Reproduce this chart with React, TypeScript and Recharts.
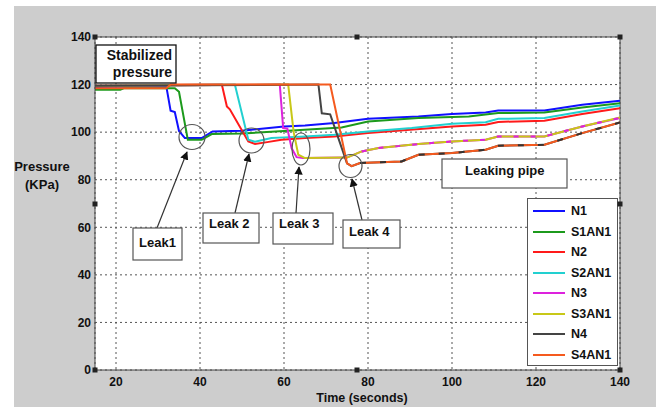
import React from 'react';
import { LineChart, Line, XAxis, YAxis, CartesianGrid, Legend, ReferenceLine } from 'recharts';

const X_TICKS = [20, 40, 60, 80, 100, 120, 140];
const Y_TICKS = [0, 20, 40, 60, 80, 100, 120, 140];

// time (s) / pressure (KPa), one pair per series
const N1_T = [15, 25, 32, 33, 34, 35, 36.4, 40.4, 43, 50, 60, 65, 72, 80, 92, 100, 108, 111, 122, 131, 140];
const N1_P = [119, 119.2, 119, 109, 108.5, 100.5, 97.5, 97.5, 100.3, 100.6, 102.4, 102.8, 103.8, 105.6, 106.6, 107.6, 108.3, 109.1, 109.1, 111.5, 113.2];

const S1AN1_T = [15, 21, 22, 34, 35, 37.1, 40.4, 42.8, 50, 60, 73.7, 80, 92, 104, 111, 122, 131, 140];
const S1AN1_P = [117.8, 117.8, 118.5, 118.5, 117, 96.8, 96.8, 99.2, 99.4, 100.5, 102, 104.5, 105.9, 106.6, 108, 108.3, 110.4, 112.2];

const N2_T = [15, 45.2, 46.4, 47.1, 51.5, 53.1, 56, 59.4, 65, 72, 80, 90, 100, 108, 111, 122, 131, 140];
const N2_P = [119.5, 120, 110.8, 109.6, 96.1, 95, 95.8, 96.8, 97.5, 98.2, 99.6, 101, 102.4, 103.1, 104.3, 104.8, 107.6, 110.1];

const S2AN1_T = [15, 48.3, 51.5, 53.1, 57, 60, 65, 72, 80, 90.4, 100, 108, 111, 122, 131, 140];
const S2AN1_P = [119.5, 120, 96.8, 96, 97.5, 97.8, 98.2, 98.9, 100.3, 101.7, 103.5, 104.2, 105.6, 105.9, 108.7, 111.2];

const N3_T = [15, 59, 59.8, 60.8, 61.8, 63, 64.5, 75, 78.5, 82.5, 92, 100, 108, 111, 122, 131, 140];
const N3_P = [119.5, 120, 101.7, 101.5, 93.3, 89.5, 89.1, 89.3, 91.9, 93.3, 95, 96.1, 96.8, 98.2, 98.2, 102.4, 106];

const S3AN1_T = [15, 61, 62.3, 63.4, 65, 75, 78.5, 82.5, 92, 100, 108, 111, 122, 131, 140];
const S3AN1_P = [119.5, 120, 100, 90.5, 89.1, 89.3, 91.9, 93.3, 95, 96.1, 96.8, 98.2, 98.2, 102.4, 106.2];

const N4_T = [15, 68.2, 69, 71, 75, 76.1, 78.1, 88, 92, 100, 108, 111, 122, 131, 140];
const N4_P = [119.5, 120, 107.9, 107.5, 86.9, 85.7, 87, 87.7, 90.5, 91.2, 92.6, 94.3, 94.7, 99.6, 104.1];

const S4AN1_T = [15, 32, 33, 71, 75, 76.1, 78.1, 88, 92, 100, 108, 111, 122, 131, 140];
const S4AN1_P = [118.5, 118.5, 120, 120, 86.9, 85.7, 87, 87.7, 90.5, 91.2, 92.6, 94.3, 94.7, 99.6, 104.1];

const SERIES_NAMES = ['N1', 'S1AN1', 'N2', 'S2AN1', 'N3', 'S3AN1', 'N4', 'S4AN1'];

const FONT = '"Liberation Sans", Arial, sans-serif';

const toPoints = (t: number[], p: number[]) => t.map((time, i) => ({ time, pressure: p[i] }));

const series = [
  { name: 'N1', color: '#1010ff', data: toPoints(N1_T, N1_P) },
  { name: 'S1AN1', color: '#1c9a1c', data: toPoints(S1AN1_T, S1AN1_P) },
  { name: 'N2', color: '#ff1a1a', data: toPoints(N2_T, N2_P) },
  { name: 'S2AN1', color: '#22d0d0', data: toPoints(S2AN1_T, S2AN1_P) },
  { name: 'N3', color: '#dd22dd', data: toPoints(N3_T, N3_P) },
  { name: 'S3AN1', color: '#c8c818', data: toPoints(S3AN1_T, S3AN1_P) },
  { name: 'N4', color: '#444444', data: toPoints(N4_T, N4_P) },
  { name: 'S4AN1', color: '#f55a1e', data: toPoints(S4AN1_T, S4AN1_P) },
];

// where N3/N4 lie on top of S3AN1/S4AN1 they show up as dashes
const n3Tail = toPoints(N3_T, N3_P).filter(d => d.time >= 76);
const n4Tail = toPoints(N4_T, N4_P).filter(d => d.time >= 77);

const LegendBox = ({ payload }: any) => {
  const items = (payload || [])
    .filter((p: any) => p.type !== 'none' && SERIES_NAMES.includes(p.value))
    .sort((a: any, b: any) => SERIES_NAMES.indexOf(a.value) - SERIES_NAMES.indexOf(b.value));
  return (
    <div style={{ width: 91, height: 168, background: '#fff', border: '1px solid #555', boxSizing: 'border-box', paddingTop: 2 }}>
      {items.map((p: any) => (
        <div key={p.value} style={{ display: 'flex', alignItems: 'center', height: 20.5, fontFamily: FONT, fontWeight: 'bold', fontSize: 12.5, color: '#111' }}>
          <div style={{ width: 32, height: 2, background: p.color, marginLeft: 5, marginRight: 6 }} />
          {p.value}
        </div>
      ))}
    </div>
  );
};

const textStyle = { fontFamily: FONT, fontWeight: 'bold' as const, fontSize: 13, fill: '#111' };

const Handle = ({ x, y }: { x: number; y: number }) => <rect x={x - 2.5} y={y - 2.5} width={5} height={5} fill="#222" />;

export default function App() {
  return (
    <div style={{ position: 'absolute', left: 0, top: 0, width: 656, height: 407, background: '#fff', overflow: 'hidden' }}>
      <div style={{ position: 'absolute', left: 14, top: 6, right: 0, bottom: 0, background: '#cdcdcd' }} />
      <div style={{ position: 'absolute', left: 0, top: 0 }}>
        <LineChart width={656} height={407} margin={{ top: 37, right: 36, left: 35, bottom: 0 }}>
          <CartesianGrid fill="#fff" stroke="#555" strokeDasharray="2 3" />
          <XAxis
            dataKey="time"
            type="number"
            domain={[15, 140]}
            ticks={X_TICKS}
            allowDataOverflow
            height={37}
            tickLine={false}
            tickSize={4}
            tickMargin={3}
            axisLine={{ stroke: '#444' }}
            tick={{ fontFamily: FONT, fontWeight: 'bold', fontSize: 12, fill: '#111' }}
          />
          <YAxis
            type="number"
            domain={[0, 140]}
            ticks={Y_TICKS}
            width={60}
            tickLine={false}
            tickSize={2}
            tickMargin={2}
            axisLine={{ stroke: '#444' }}
            tick={{ fontFamily: FONT, fontWeight: 'bold', fontSize: 12, fill: '#111' }}
          />
          <ReferenceLine y={140} stroke="#444" />
          <ReferenceLine x={140} stroke="#444" />
          {series.map(s => (
            <Line
              key={s.name}
              data={s.data}
              dataKey="pressure"
              name={s.name}
              type="linear"
              stroke={s.color}
              strokeWidth={2}
              dot={false}
              isAnimationActive={false}
            />
          ))}
          <Line data={n3Tail} dataKey="pressure" name="N3 overlap" legendType="none" type="linear" stroke="#dd22dd" strokeWidth={2} strokeDasharray="5 12" dot={false} isAnimationActive={false} />
          <Line data={n4Tail} dataKey="pressure" name="N4 overlap" legendType="none" type="linear" stroke="#333" strokeWidth={2} strokeDasharray="6 14" dot={false} isAnimationActive={false} />
          <Legend
            layout="vertical"
            align="center"
            verticalAlign="middle"
            content={<LegendBox />}
            wrapperStyle={{ left: 527, top: 198, width: 91, height: 168 }}
          />
        </LineChart>
      </div>
      <svg width={656} height={407} style={{ position: 'absolute', left: 0, top: 0, pointerEvents: 'none' }}>
        <defs>
          <marker id="arr" viewBox="0 0 10 10" refX="9" refY="5" markerWidth="7" markerHeight="7" orient="auto">
            <path d="M0,0 L10,5 L0,10 z" fill="#111" />
          </marker>
        </defs>
        {/* axis labels */}
        <text x={42} y={171} textAnchor="middle" style={textStyle}>Pressure</text>
        <text x={42} y={189} textAnchor="middle" style={textStyle}>(KPa)</text>
        <text x={362} y={402} textAnchor="middle" style={{ ...textStyle, fontSize: 12.5 }}>Time (seconds)</text>

        {/* stabilized pressure note */}
        <rect x={96} y={45} width={80} height={38} fill="#fff" stroke="#111" strokeWidth={1.3} />
        <text x={172} y={60} textAnchor="end" style={{ ...textStyle, fontSize: 14 }}>Stabilized</text>
        <text x={172} y={77} textAnchor="end" style={{ ...textStyle, fontSize: 14 }}>pressure</text>

        {/* leak circles */}
        <ellipse cx={192} cy={137} rx={13} ry={12.5} fill="none" stroke="#555" strokeWidth={1.2} />
        <ellipse cx={251.5} cy={140.5} rx={12.5} ry={12.5} fill="none" stroke="#555" strokeWidth={1.2} />
        <ellipse cx={301} cy={149} rx={9} ry={16} fill="none" stroke="#555" strokeWidth={1.2} />
        <ellipse cx={350.5} cy={166} rx={11.5} ry={11.5} fill="none" stroke="#555" strokeWidth={1.2} />

        {/* arrows */}
        <line x1={157} y1={228} x2={187} y2={152} stroke="#333" strokeWidth={1.2} markerEnd="url(#arr)" />
        <line x1={235} y1={213} x2={249} y2={154} stroke="#333" strokeWidth={1.2} markerEnd="url(#arr)" />
        <line x1={296} y1={213} x2={299} y2={167} stroke="#333" strokeWidth={1.2} markerEnd="url(#arr)" />
        <line x1={362} y1={220} x2={352} y2={179} stroke="#333" strokeWidth={1.2} markerEnd="url(#arr)" />

        {/* leak labels */}
        <rect x={133} y={228} width={49} height={32} fill="#fff" stroke="#555" strokeWidth={1.2} />
        <text x={139} y={247} style={textStyle}>Leak1</text>
        <rect x={203} y={213} width={56} height={30} fill="#fff" stroke="#555" strokeWidth={1.2} />
        <text x={209} y={228} style={textStyle}>Leak 2</text>
        <rect x={273} y={213} width={60} height={31} fill="#fff" stroke="#555" strokeWidth={1.2} />
        <text x={279} y={228} style={textStyle}>Leak 3</text>
        <rect x={343} y={220} width={57} height={28} fill="#fff" stroke="#555" strokeWidth={1.2} />
        <text x={349} y={236} style={textStyle}>Leak 4</text>

        <rect x={442} y={159} width={125} height={29} fill="#fff" stroke="#555" strokeWidth={1.2} />
        <text x={465} y={175} style={textStyle}>Leaking pipe</text>

        {/* edit-mode handles */}
        <Handle x={95} y={37} />
        <Handle x={357} y={37} />
        <Handle x={620} y={37} />
        <Handle x={95} y={204} />
        <Handle x={620} y={204} />
        <Handle x={95} y={370} />
        <Handle x={357} y={370} />
        <Handle x={620} y={370} />
      </svg>
    </div>
  );
}
